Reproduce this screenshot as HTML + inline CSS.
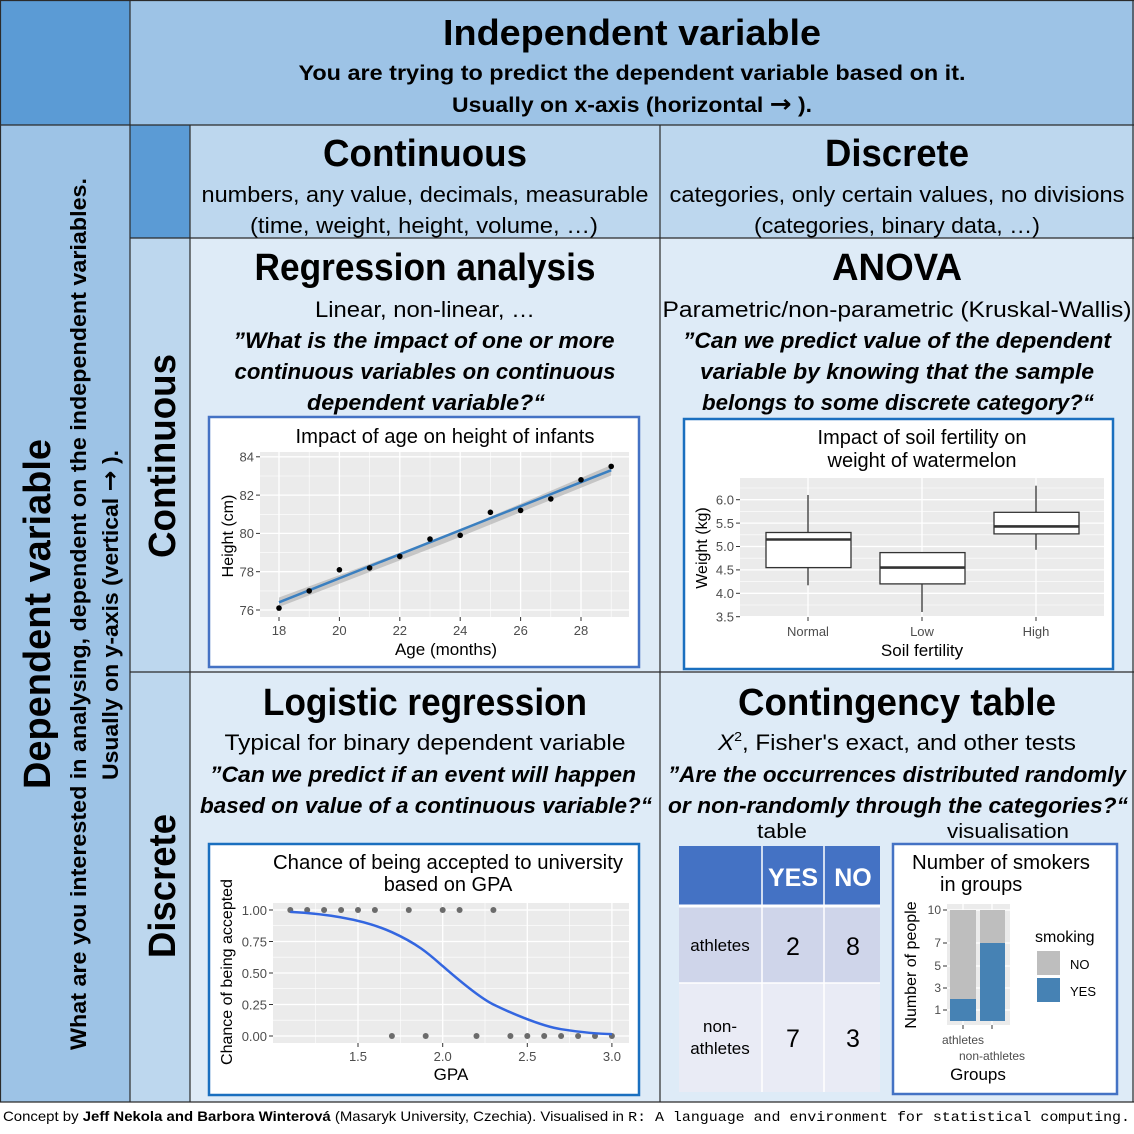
<!DOCTYPE html>
<html><head><meta charset="utf-8"><style>
html,body{margin:0;padding:0;background:#fff;}
svg{display:block;}
.c{font-family:"Liberation Sans",sans-serif;}
.t{font-family:"Liberation Sans",sans-serif;fill:#4d4d4d;font-size:13px;}
.ti{font-family:"Liberation Sans",sans-serif;fill:#000;font-size:20px;}
</style></head><body>
<svg width="1134" height="1134" viewBox="0 0 1134 1134" xmlns="http://www.w3.org/2000/svg">
<rect x="0" y="0" width="1134" height="1134" fill="#fff"/>
<rect x="0" y="0" width="130" height="125" fill="#5b9bd5"/>
<rect x="130" y="0" width="1004" height="125" fill="#9dc3e6"/>
<rect x="0" y="125" width="130" height="977" fill="#9dc3e6"/>
<rect x="130" y="125" width="60" height="113" fill="#5b9bd5"/>
<rect x="130" y="238" width="60" height="864" fill="#bdd7ee"/>
<rect x="190" y="125" width="944" height="113" fill="#bdd7ee"/>
<rect x="190" y="238" width="944" height="864" fill="#deebf7"/>
<g stroke="#2b2b2b" stroke-width="1.2" fill="none">
<line x1="0" y1="0.5" x2="1134" y2="0.5"/>
<line x1="0" y1="125" x2="1134" y2="125"/>
<line x1="130" y1="238" x2="1134" y2="238"/>
<line x1="130" y1="672" x2="1134" y2="672"/>
<line x1="0" y1="1102" x2="1134" y2="1102"/>
<line x1="130" y1="0" x2="130" y2="1102"/>
<line x1="190" y1="125" x2="190" y2="1102"/>
<line x1="660" y1="125" x2="660" y2="1102"/>
<line x1="1133" y1="0" x2="1133" y2="1102"/>
<line x1="0.5" y1="0" x2="0.5" y2="1102"/>
</g>
<g class="c" text-anchor="middle" font-weight="bold" fill="#000">
<text x="632" y="45" font-size="36" textLength="378" lengthAdjust="spacingAndGlyphs">Independent variable</text>
<text x="632" y="80" font-size="21" textLength="667" lengthAdjust="spacingAndGlyphs">You are trying to predict the dependent variable based on it.</text>
<text x="632" y="112" font-size="21" textLength="360" lengthAdjust="spacingAndGlyphs">Usually on x-axis (horizontal <tspan font-family="DejaVu Sans" font-size="24">→</tspan> ).</text>
<text x="425" y="166" font-size="38" textLength="204" lengthAdjust="spacingAndGlyphs">Continuous</text>
<text x="897" y="166" font-size="38" textLength="144" lengthAdjust="spacingAndGlyphs">Discrete</text>
<text x="425" y="280" font-size="38" textLength="341" lengthAdjust="spacingAndGlyphs">Regression analysis</text>
<text x="897" y="280" font-size="38" textLength="130" lengthAdjust="spacingAndGlyphs">ANOVA</text>
<text x="425" y="715" font-size="38" textLength="324" lengthAdjust="spacingAndGlyphs">Logistic regression</text>
<text x="897" y="715" font-size="38" textLength="318" lengthAdjust="spacingAndGlyphs">Contingency table</text>
</g>
<g class="c" text-anchor="middle" fill="#000" font-size="22">
<text x="425" y="202" textLength="447" lengthAdjust="spacingAndGlyphs">numbers, any value, decimals, measurable</text>
<text x="424" y="233" textLength="348" lengthAdjust="spacingAndGlyphs">(time, weight, height, volume, …)</text>
<text x="897" y="202" textLength="455" lengthAdjust="spacingAndGlyphs">categories, only certain values, no divisions</text>
<text x="897" y="233" textLength="286" lengthAdjust="spacingAndGlyphs">(categories, binary data, …)</text>
<text x="425" y="317" textLength="220" lengthAdjust="spacingAndGlyphs">Linear, non-linear, …</text>
<text x="897" y="317" textLength="469" lengthAdjust="spacingAndGlyphs">Parametric/non-parametric (Kruskal-Wallis)</text>
<text x="425" y="750" textLength="401" lengthAdjust="spacingAndGlyphs">Typical for binary dependent variable</text>
<text x="897" y="750" textLength="358" lengthAdjust="spacingAndGlyphs"><tspan font-style="italic">X</tspan><tspan font-size="13" dy="-9">2</tspan><tspan dy="9">, Fisher's exact, and other tests</tspan></text>
<text x="782" y="838" font-size="20" textLength="50" lengthAdjust="spacingAndGlyphs">table</text>
<text x="1008" y="838" font-size="20" textLength="122" lengthAdjust="spacingAndGlyphs">visualisation</text>
</g>
<g class="c" text-anchor="middle" fill="#000" font-size="22" font-weight="bold" font-style="italic">
<text x="424" y="348" textLength="381" lengthAdjust="spacingAndGlyphs">”What is the impact of one or more</text>
<text x="425" y="379" textLength="381" lengthAdjust="spacingAndGlyphs">continuous variables on continuous</text>
<text x="426" y="410" textLength="238" lengthAdjust="spacingAndGlyphs">dependent variable?“</text>
<text x="897" y="348" textLength="428" lengthAdjust="spacingAndGlyphs">”Can we predict value of the dependent</text>
<text x="897" y="379" textLength="394" lengthAdjust="spacingAndGlyphs">variable by knowing that the sample</text>
<text x="898" y="410" textLength="392" lengthAdjust="spacingAndGlyphs">belongs to some discrete category?“</text>
<text x="423" y="782" textLength="426" lengthAdjust="spacingAndGlyphs">”Can we predict if an event will happen</text>
<text x="426" y="813" textLength="452" lengthAdjust="spacingAndGlyphs">based on value of a continuous variable?“</text>
<text x="897" y="782" textLength="458" lengthAdjust="spacingAndGlyphs">”Are the occurrences distributed randomly</text>
<text x="898" y="813" textLength="460" lengthAdjust="spacingAndGlyphs">or non-randomly through the categories?“</text>
</g>
<g class="c" text-anchor="middle" fill="#000">
<text transform="translate(50,614) rotate(-90)" font-size="38" font-weight="bold" textLength="350" lengthAdjust="spacingAndGlyphs">Dependent variable</text>
<text transform="translate(86,614) rotate(-90)" font-size="22" font-weight="bold" textLength="872" lengthAdjust="spacingAndGlyphs">What are you interested in analysing, dependent on the independent variables.</text>
<text transform="translate(118,615) rotate(-90)" font-size="22" font-weight="bold" textLength="330" lengthAdjust="spacingAndGlyphs">Usually on y-axis (vertical <tspan font-family="DejaVu Sans" font-size="24">→</tspan> ).</text>
<text transform="translate(175,456) rotate(-90)" font-size="38" font-weight="bold" textLength="204" lengthAdjust="spacingAndGlyphs">Continuous</text>
<text transform="translate(175,886) rotate(-90)" font-size="38" font-weight="bold" textLength="144" lengthAdjust="spacingAndGlyphs">Discrete</text>
</g>
<text x="3" y="1121" font-size="14" class="c" fill="#000" textLength="1127" lengthAdjust="spacingAndGlyphs">Concept by <tspan font-weight="bold">Jeff Nekola and Barbora Winterová</tspan> (Masaryk University, Czechia). Visualised in <tspan font-family="Liberation Mono">R: A language and environment for statistical computing.</tspan></text>

<!-- Regression plot -->
<rect x="209" y="417" width="430" height="250" fill="#fff" stroke="#4472c4" stroke-width="2.5"/>
<rect x="260" y="452" width="369" height="165" fill="#ebebeb"/>
<g stroke="#fff" stroke-width="0.6">
<line x1="309.2" y1="452" x2="309.2" y2="617"/><line x1="369.6" y1="452" x2="369.6" y2="617"/><line x1="430" y1="452" x2="430" y2="617"/><line x1="490.4" y1="452" x2="490.4" y2="617"/><line x1="550.8" y1="452" x2="550.8" y2="617"/><line x1="611.2" y1="452" x2="611.2" y2="617"/>
<line x1="260" y1="590.9" x2="629" y2="590.9"/><line x1="260" y1="552.6" x2="629" y2="552.6"/><line x1="260" y1="514.3" x2="629" y2="514.3"/><line x1="260" y1="476" x2="629" y2="476"/>
</g>
<g stroke="#fff" stroke-width="1.3">
<line x1="279" y1="452" x2="279" y2="617"/><line x1="339.4" y1="452" x2="339.4" y2="617"/><line x1="399.8" y1="452" x2="399.8" y2="617"/><line x1="460.2" y1="452" x2="460.2" y2="617"/><line x1="520.6" y1="452" x2="520.6" y2="617"/><line x1="581" y1="452" x2="581" y2="617"/>
<line x1="260" y1="610" x2="629" y2="610"/><line x1="260" y1="571.7" x2="629" y2="571.7"/><line x1="260" y1="533.4" x2="629" y2="533.4"/><line x1="260" y1="495.1" x2="629" y2="495.1"/><line x1="260" y1="456.8" x2="629" y2="456.8"/>
</g>
<polygon points="279,597.5 445,536 611.2,465 611.2,475.5 445,543 279,607" fill="#bcbcbc" opacity="0.8"/>
<line x1="279" y1="602.3" x2="611.2" y2="470.2" stroke="#3a7fc0" stroke-width="2.5"/>
<g fill="#000">
<circle cx="279" cy="608.1" r="2.8"/><circle cx="309.2" cy="590.9" r="2.8"/><circle cx="339.4" cy="569.8" r="2.8"/><circle cx="369.6" cy="567.9" r="2.8"/><circle cx="399.8" cy="556.4" r="2.8"/><circle cx="430" cy="539.1" r="2.8"/><circle cx="460.2" cy="535.3" r="2.8"/><circle cx="490.4" cy="512.3" r="2.8"/><circle cx="520.6" cy="510.4" r="2.8"/><circle cx="550.8" cy="498.9" r="2.8"/><circle cx="581" cy="479.8" r="2.8"/><circle cx="611.2" cy="466.4" r="2.8"/>
</g>
<g stroke="#333" stroke-width="1">
<line x1="256" y1="610" x2="260" y2="610"/><line x1="256" y1="571.7" x2="260" y2="571.7"/><line x1="256" y1="533.4" x2="260" y2="533.4"/><line x1="256" y1="495.1" x2="260" y2="495.1"/><line x1="256" y1="456.8" x2="260" y2="456.8"/>
<line x1="279" y1="617" x2="279" y2="621"/><line x1="339.4" y1="617" x2="339.4" y2="621"/><line x1="399.8" y1="617" x2="399.8" y2="621"/><line x1="460.2" y1="617" x2="460.2" y2="621"/><line x1="520.6" y1="617" x2="520.6" y2="621"/><line x1="581" y1="617" x2="581" y2="621"/>
</g>
<g class="t" text-anchor="end">
<text x="254" y="615">76</text><text x="254" y="576.5">78</text><text x="254" y="538">80</text><text x="254" y="500">82</text><text x="254" y="461.5">84</text>
</g>
<g class="t" text-anchor="middle">
<text x="279" y="635">18</text><text x="339.4" y="635">20</text><text x="399.8" y="635">22</text><text x="460.2" y="635">24</text><text x="520.6" y="635">26</text><text x="581" y="635">28</text>
</g>
<text class="ti" x="445" y="443" text-anchor="middle" textLength="299" lengthAdjust="spacingAndGlyphs">Impact of age on height of infants</text>
<text class="c" x="446" y="655" text-anchor="middle" font-size="17">Age (months)</text>
<text class="c" transform="translate(233,536) rotate(-90)" text-anchor="middle" font-size="16">Height (cm)</text>

<!-- ANOVA plot -->
<rect x="684" y="419" width="429" height="250" fill="#fff" stroke="#1a6fbf" stroke-width="2.5"/>
<rect x="740" y="478" width="364" height="139" fill="#ebebeb"/>
<g stroke="#fff" stroke-width="0.6">
<line x1="740" y1="605" x2="1104" y2="605"/><line x1="740" y1="581.6" x2="1104" y2="581.6"/><line x1="740" y1="558.2" x2="1104" y2="558.2"/><line x1="740" y1="534.8" x2="1104" y2="534.8"/><line x1="740" y1="511.4" x2="1104" y2="511.4"/><line x1="740" y1="488" x2="1104" y2="488"/>
</g>
<g stroke="#fff" stroke-width="1.3">
<line x1="740" y1="616.7" x2="1104" y2="616.7"/><line x1="740" y1="593.3" x2="1104" y2="593.3"/><line x1="740" y1="569.9" x2="1104" y2="569.9"/><line x1="740" y1="546.5" x2="1104" y2="546.5"/><line x1="740" y1="523.1" x2="1104" y2="523.1"/><line x1="740" y1="499.7" x2="1104" y2="499.7"/>
<line x1="808" y1="478" x2="808" y2="617"/><line x1="922" y1="478" x2="922" y2="617"/><line x1="1036" y1="478" x2="1036" y2="617"/>
</g>
<g stroke="#333" stroke-width="1.3" fill="#fff">
<line x1="808" y1="495" x2="808" y2="585.3"/>
<rect x="766" y="532.5" width="85" height="35.1"/>
<line x1="766" y1="539.5" x2="851" y2="539.5" stroke-width="2.6"/>
<line x1="922" y1="583.9" x2="922" y2="612"/>
<rect x="880" y="552.6" width="85" height="31.3"/>
<line x1="880" y1="567.6" x2="965" y2="567.6" stroke-width="2.6"/>
<line x1="1036" y1="485.7" x2="1036" y2="549.8"/>
<rect x="994" y="512.3" width="85" height="21.6"/>
<line x1="994" y1="526.4" x2="1079" y2="526.4" stroke-width="2.6"/>
</g>
<g stroke="#333" stroke-width="1">
<line x1="736" y1="616.7" x2="740" y2="616.7"/><line x1="736" y1="593.3" x2="740" y2="593.3"/><line x1="736" y1="569.9" x2="740" y2="569.9"/><line x1="736" y1="546.5" x2="740" y2="546.5"/><line x1="736" y1="523.1" x2="740" y2="523.1"/><line x1="736" y1="499.7" x2="740" y2="499.7"/>
<line x1="808" y1="617" x2="808" y2="621"/><line x1="922" y1="617" x2="922" y2="621"/><line x1="1036" y1="617" x2="1036" y2="621"/>
</g>
<g class="t" text-anchor="end">
<text x="734" y="621.5">3.5</text><text x="734" y="598">4.0</text><text x="734" y="574.5">4.5</text><text x="734" y="551">5.0</text><text x="734" y="528">5.5</text><text x="734" y="504.5">6.0</text>
</g>
<g class="t" text-anchor="middle">
<text x="808" y="636">Normal</text><text x="922" y="636">Low</text><text x="1036" y="636">High</text>
</g>
<text class="ti" x="922" y="444" text-anchor="middle">Impact of soil fertility on</text>
<text class="ti" x="922" y="467" text-anchor="middle">weight of watermelon</text>
<text class="c" x="922" y="656" text-anchor="middle" font-size="17">Soil fertility</text>
<text class="c" transform="translate(707,548) rotate(-90)" text-anchor="middle" font-size="16">Weight (kg)</text>

<!-- Logistic plot -->
<rect x="209" y="844" width="430" height="251" fill="#fff" stroke="#1a6fbf" stroke-width="2.5"/>
<rect x="273" y="903" width="356" height="140" fill="#ebebeb"/>
<g stroke="#fff" stroke-width="0.6">
<line x1="315.7" y1="903" x2="315.7" y2="1043"/><line x1="400.3" y1="903" x2="400.3" y2="1043"/><line x1="485" y1="903" x2="485" y2="1043"/><line x1="569.6" y1="903" x2="569.6" y2="1043"/>
<line x1="273" y1="925.7" x2="629" y2="925.7"/><line x1="273" y1="957.2" x2="629" y2="957.2"/><line x1="273" y1="988.7" x2="629" y2="988.7"/><line x1="273" y1="1020.2" x2="629" y2="1020.2"/>
</g>
<g stroke="#fff" stroke-width="1.3">
<line x1="358" y1="903" x2="358" y2="1043"/><line x1="442.7" y1="903" x2="442.7" y2="1043"/><line x1="527.3" y1="903" x2="527.3" y2="1043"/><line x1="611.9" y1="903" x2="611.9" y2="1043"/>
<line x1="273" y1="910" x2="629" y2="910"/><line x1="273" y1="941.5" x2="629" y2="941.5"/><line x1="273" y1="973" x2="629" y2="973"/><line x1="273" y1="1004.5" x2="629" y2="1004.5"/><line x1="273" y1="1036" x2="629" y2="1036"/>
</g>
<g fill="#6b6b6b">
<circle cx="290.3" cy="910" r="3"/><circle cx="307.2" cy="910" r="3"/><circle cx="324.1" cy="910" r="3"/><circle cx="341.1" cy="910" r="3"/><circle cx="358" cy="910" r="3"/><circle cx="374.9" cy="910" r="3"/><circle cx="408.8" cy="910" r="3"/><circle cx="442.7" cy="910" r="3"/><circle cx="459.6" cy="910" r="3"/><circle cx="493.4" cy="910" r="3"/>
<circle cx="391.9" cy="1036" r="3"/><circle cx="425.7" cy="1036" r="3"/><circle cx="476.5" cy="1036" r="3"/><circle cx="510.4" cy="1036" r="3"/><circle cx="527.3" cy="1036" r="3"/><circle cx="544.2" cy="1036" r="3"/><circle cx="561.1" cy="1036" r="3"/><circle cx="578.1" cy="1036" r="3"/><circle cx="595" cy="1036" r="3"/><circle cx="611.9" cy="1036" r="3"/>
</g>
<path fill="none" stroke="#3366e0" stroke-width="2.5" d="M290.3,911.9 C330,914 365,920 391.9,932.2 S430,955 442.7,966.1 S480,998 493.4,1004.5 S540,1026 561.1,1029.2 S600,1034 611.9,1034.1"/>
<g stroke="#333" stroke-width="1">
<line x1="269" y1="910" x2="273" y2="910"/><line x1="269" y1="941.5" x2="273" y2="941.5"/><line x1="269" y1="973" x2="273" y2="973"/><line x1="269" y1="1004.5" x2="273" y2="1004.5"/><line x1="269" y1="1036" x2="273" y2="1036"/>
<line x1="358" y1="1043" x2="358" y2="1047"/><line x1="442.7" y1="1043" x2="442.7" y2="1047"/><line x1="527.3" y1="1043" x2="527.3" y2="1047"/><line x1="611.9" y1="1043" x2="611.9" y2="1047"/>
</g>
<g class="t" text-anchor="end">
<text x="267" y="915">1.00</text><text x="267" y="946.5">0.75</text><text x="267" y="978">0.50</text><text x="267" y="1009.5">0.25</text><text x="267" y="1041">0.00</text>
</g>
<g class="t" text-anchor="middle">
<text x="358" y="1061">1.5</text><text x="442.7" y="1061">2.0</text><text x="527.3" y="1061">2.5</text><text x="611.9" y="1061">3.0</text>
</g>
<text class="ti" x="448" y="869" text-anchor="middle" textLength="350" lengthAdjust="spacingAndGlyphs">Chance of being accepted to university</text>
<text class="ti" x="448" y="891" text-anchor="middle">based on GPA</text>
<text class="c" x="451" y="1080" text-anchor="middle" font-size="17">GPA</text>
<text class="c" transform="translate(232,972) rotate(-90)" text-anchor="middle" font-size="16">Chance of being accepted</text>

<!-- Contingency table -->
<rect x="679" y="846" width="201" height="60" fill="#4472c4"/>
<rect x="679" y="906" width="201" height="77" fill="#cfd5ea"/>
<rect x="679" y="983" width="201" height="109" fill="#e9ebf5"/>
<g stroke="#fff" stroke-width="1.5">
<line x1="762" y1="846" x2="762" y2="1092"/><line x1="824" y1="846" x2="824" y2="1092"/>
<line x1="679" y1="906" x2="880" y2="906" stroke-width="3"/><line x1="679" y1="983" x2="880" y2="983"/>
</g>
<g class="c" text-anchor="middle">
<text x="793" y="886" fill="#fff" font-size="25" font-weight="bold">YES</text>
<text x="853" y="886" fill="#fff" font-size="25" font-weight="bold">NO</text>
<text x="720" y="951" font-size="17">athletes</text>
<text x="720" y="1032" font-size="17">non-</text>
<text x="720" y="1054" font-size="17">athletes</text>
<text x="793" y="955" font-size="25">2</text><text x="853" y="955" font-size="25">8</text>
<text x="793" y="1047" font-size="25">7</text><text x="853" y="1047" font-size="25">3</text>
</g>

<!-- Bar chart -->
<rect x="893" y="844" width="224" height="250" fill="#fff" stroke="#4472c4" stroke-width="2.5"/>
<rect x="947" y="904" width="63" height="121" fill="#ebebeb"/>
<g stroke="#fff" stroke-width="1.3">
<line x1="963" y1="904" x2="963" y2="1025"/><line x1="992" y1="904" x2="992" y2="1025"/>
<line x1="947" y1="910" x2="1010" y2="910"/><line x1="947" y1="943" x2="1010" y2="943"/><line x1="947" y1="966" x2="1010" y2="966"/><line x1="947" y1="988" x2="1010" y2="988"/><line x1="947" y1="1010" x2="1010" y2="1010"/>
</g>
<rect x="950" y="910" width="26" height="89" fill="#bebebe"/>
<rect x="950" y="999" width="26" height="22" fill="#4682b4"/>
<rect x="980" y="910" width="25" height="33" fill="#bebebe"/>
<rect x="980" y="943" width="25" height="78" fill="#4682b4"/>
<g stroke="#333" stroke-width="1">
<line x1="943" y1="910" x2="947" y2="910"/><line x1="943" y1="943" x2="947" y2="943"/><line x1="943" y1="966" x2="947" y2="966"/><line x1="943" y1="988" x2="947" y2="988"/><line x1="943" y1="1010" x2="947" y2="1010"/>
<line x1="963" y1="1025" x2="963" y2="1029"/><line x1="992" y1="1025" x2="992" y2="1029"/>
</g>
<g class="t" text-anchor="end">
<text x="941" y="914" font-size="12">10</text><text x="941" y="947" font-size="12">7</text><text x="941" y="970" font-size="12">5</text><text x="941" y="992" font-size="12">3</text><text x="941" y="1014" font-size="12">1</text>
</g>
<g class="t" text-anchor="middle">
<text x="963" y="1044" font-size="12">athletes</text><text x="992" y="1060" font-size="12">non-athletes</text>
</g>
<text class="c" x="978" y="1080" text-anchor="middle" font-size="17">Groups</text>
<text class="c" transform="translate(916,965) rotate(-90)" text-anchor="middle" font-size="16">Number of people</text>
<text class="ti" x="912" y="869" textLength="178" lengthAdjust="spacingAndGlyphs">Number of smokers</text>
<text class="ti" x="940" y="891">in groups</text>
<text class="c" x="1035" y="942" font-size="16">smoking</text>
<rect x="1037" y="951" width="23" height="24" fill="#bebebe"/>
<rect x="1037" y="978" width="23" height="24" fill="#4682b4"/>
<text class="c" x="1070" y="969" font-size="13">NO</text>
<text class="c" x="1070" y="996" font-size="13">YES</text>
</svg>
</body></html>
